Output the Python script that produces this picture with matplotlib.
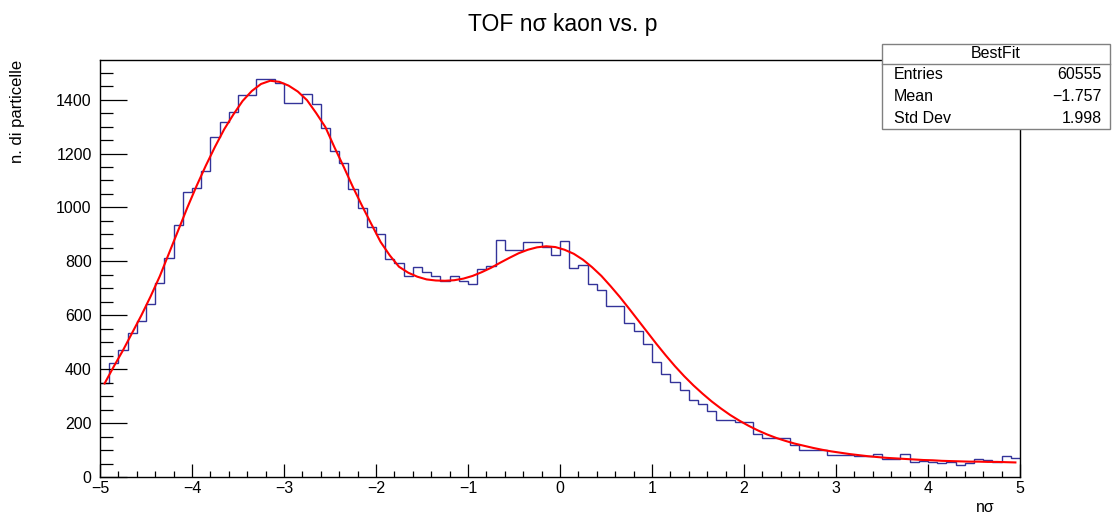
import numpy as np
import matplotlib
matplotlib.use("Agg")
import matplotlib.pyplot as plt
from matplotlib.ticker import MultipleLocator
from matplotlib.patches import Rectangle

plt.rcParams['font.family'] = ['Liberation Sans', 'DejaVu Sans']

# histogram: 100 bins from -5 to 5
edges = np.linspace(-5, 5, 101)
counts = [347, 422, 471, 533, 579, 641, 721, 813, 935, 1056,
          1072, 1137, 1260, 1316, 1353, 1417, 1417, 1475, 1475, 1463,
          1389, 1387, 1420, 1383, 1296, 1210, 1164, 1067, 997, 929,
          902, 808, 793, 746, 780, 761, 746, 728, 746, 726,
          716, 771, 783, 881, 842, 842, 873, 873, 852, 825,
          876, 774, 787, 716, 694, 635, 635, 570, 542, 494,
          428, 382, 352, 324, 286, 270, 245, 212, 212, 205,
          205, 158, 145, 145, 145, 120, 101, 102, 102, 81,
          83, 83, 78, 78, 84, 66, 66, 84, 56, 59,
          56, 53, 56, 45, 53, 68, 63, 56, 79, 72]

# fit curve read at bin centres
fit_x = np.arange(-4.95, 5.0, 0.1)
fit_y = [347, 410, 470, 535, 600, 670, 745, 830, 915, 1000,
         1080, 1155, 1225, 1290, 1345, 1395, 1432, 1458, 1470, 1466,
         1452, 1430, 1398, 1350, 1298, 1222, 1150, 1075, 1005, 938,
         872, 822, 780, 758, 743, 733, 729, 728, 730, 736,
         746, 760, 776, 795, 813, 830, 843, 852, 856, 853,
         843, 828, 806, 778, 746, 708, 668, 625, 581, 537,
         493, 451, 411, 374, 340, 309, 280, 254, 230, 209,
         190, 173, 158, 145, 134, 124, 116, 108, 101, 95,
         90, 85, 81, 77, 74, 71, 69, 67, 65, 63,
         62, 60, 59, 58, 57, 57, 56, 56, 55, 54]

title = "TOF n\u03c3 kaon vs. p"
xlabel = "n\u03c3"
ylabel = "n. di particelle"
stat_title = "BestFit"
stat_names = ["Entries", "Mean", "Std Dev"]
stat_values = ["60555", "\u22121.757", "1.998"]

fig = plt.figure(figsize=(11.13, 5.14), dpi=100)
ax = fig.add_axes([100/1113, 37/514, 920/1113, 417/514])

ax.stairs(counts, edges, color='#333399', lw=1.0, baseline=None)
ax.plot(fit_x, fit_y, color='#ff0000', lw=1.5)

ax.set_xlim(-5, 5)
ax.set_ylim(0, 1547)
ax.xaxis.set_major_locator(MultipleLocator(1))
ax.xaxis.set_minor_locator(MultipleLocator(0.2))
ax.yaxis.set_major_locator(MultipleLocator(200))
ax.yaxis.set_minor_locator(MultipleLocator(50))
ax.tick_params(axis='both', which='both', direction='in', top=False, right=False, labelsize=11.5, width=0.9)
ax.tick_params(axis='x', which='major', length=9.5, pad=3)
ax.tick_params(axis='x', which='minor', length=4.5)
ax.tick_params(axis='y', which='major', length=19.5, pad=6)
ax.tick_params(axis='y', which='minor', length=9.5)
for s in ax.spines.values():
    s.set_linewidth(1.0)

fig.text(0.506, 1 - 25/514, title, ha='center', va='center', fontsize=16.5)
fig.text(18/1113, 1 - 60/514, ylabel, rotation=90, ha='center', va='top', fontsize=12)
fig.text(995/1113, 1 - 507/514, xlabel, ha='right', va='center', fontsize=11.5)

# stat box
bx0, bx1 = 882/1113, 1110/1113
by0, by1 = 1 - 129/514, 1 - 44/514
fig.patches.append(Rectangle((bx0, by0), bx1 - bx0, by1 - by0, transform=fig.transFigure,
                             facecolor='white', edgecolor='#808080', lw=1.0, zorder=5))
hline = 1 - 64/514
fig.add_artist(plt.Line2D([bx0, bx1], [hline, hline], transform=fig.transFigure, color='#808080', lw=1.0, zorder=6))
fig.text((bx0 + bx1) / 2, 1 - 54/514, stat_title, ha='center', va='center', fontsize=11.5, zorder=7)
row_y = [74.8, 96.5, 118.2]
for name, val, ry in zip(stat_names, stat_values, row_y):
    fig.text(894/1113, 1 - ry/514, name, ha='left', va='center', fontsize=11.5, zorder=7)
    fig.text(1102/1113, 1 - ry/514, val, ha='right', va='center', fontsize=11.5, zorder=7)

fig.savefig("out.png", dpi=100)
